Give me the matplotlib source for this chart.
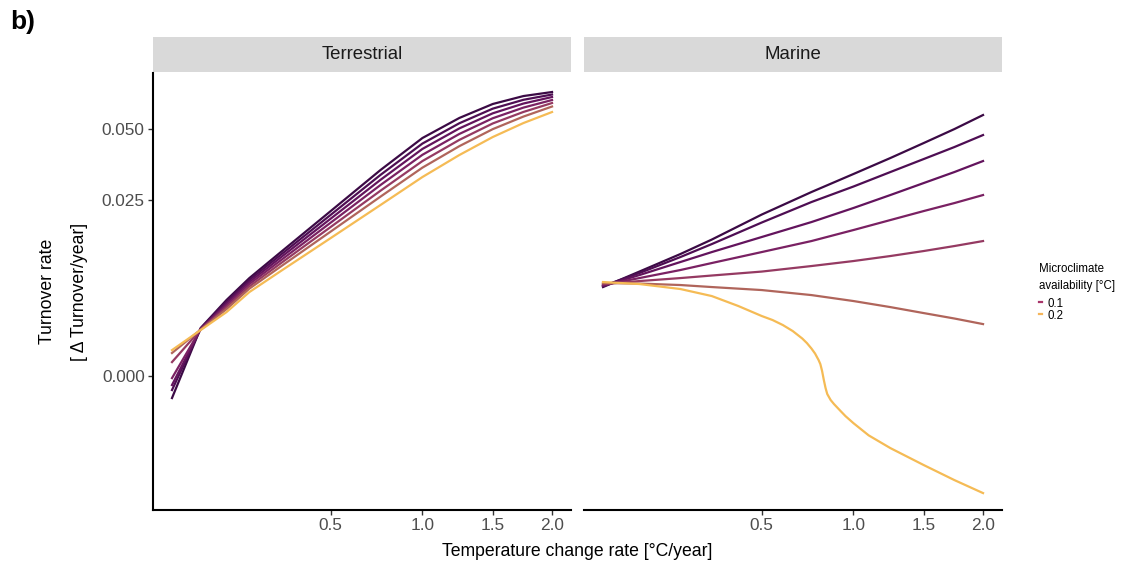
import numpy as np
import matplotlib.pyplot as plt
from matplotlib.lines import Line2D

plt.rcParams['font.family'] = ['Liberation Sans', 'DejaVu Sans']

# Terrestrial: turnover rate per microclimate availability (dark -> light)
terr_x = [0.04, 0.085, 0.14, 0.2, 0.3, 0.5, 0.75, 1.0, 1.25, 1.5, 1.75, 2.0]
terr = [
    [-0.00207, 0.00464, 0.00772, 0.01049, 0.01436, 0.0223, 0.03355, 0.04569, 0.05532, 0.06315, 0.06808, 0.07072],
    [-0.00131, 0.00459, 0.00752, 0.01023, 0.01393, 0.02145, 0.03199, 0.04333, 0.05261, 0.06043, 0.06571, 0.06907],
    [-0.00084, 0.00454, 0.00732, 0.00996, 0.01351, 0.02062, 0.03048, 0.04115, 0.05009, 0.05782, 0.06343, 0.06746],
    [-0.00019, 0.00454, 0.00711, 0.0097, 0.01306, 0.01978, 0.02896, 0.03889, 0.04751, 0.05517, 0.06104, 0.06557],
    [0.00131, 0.00448, 0.00689, 0.0094, 0.01261, 0.0189, 0.02737, 0.03661, 0.04489, 0.05251, 0.05858, 0.06374],
    [0.00217, 0.00448, 0.00667, 0.00911, 0.01213, 0.018, 0.0258, 0.03434, 0.04227, 0.04974, 0.05606, 0.06166],
    [0.00245, 0.00443, 0.00634, 0.00868, 0.01147, 0.01678, 0.02371, 0.03133, 0.03881, 0.04613, 0.05272, 0.05853],
]

# Marine
mar_x = [0.04, 0.1, 0.2, 0.3, 0.5, 0.75, 1.0, 1.25, 1.5, 1.75, 2.0]
mar = [
    [0.00931, 0.01139, 0.01404, 0.01651, 0.02151, 0.02702, 0.03227, 0.0377, 0.04356, 0.04979, 0.05689],
    [0.00944, 0.01118, 0.01356, 0.01571, 0.0198, 0.02444, 0.02853, 0.0329, 0.03734, 0.04192, 0.04702],
    [0.00944, 0.0109, 0.01279, 0.01436, 0.01697, 0.0199, 0.023, 0.02622, 0.02954, 0.03291, 0.03662],
    [0.00957, 0.01049, 0.01161, 0.01264, 0.01436, 0.01624, 0.01829, 0.02032, 0.0223, 0.02419, 0.02622],
    [0.0097, 0.01009, 0.01049, 0.01084, 0.01139, 0.01219, 0.01294, 0.01372, 0.01453, 0.01537, 0.01624],
    [0.00983, 0.00976, 0.00957, 0.00931, 0.00893, 0.00831, 0.0076, 0.0069, 0.00623, 0.00564, 0.00505],
]
mar_hi_x = [0.04, 0.1, 0.2, 0.3, 0.4, 0.5, 0.55, 0.6, 0.65, 0.7, 0.725, 0.75, 0.77, 0.79, 0.8, 0.81,
            0.82, 0.83, 0.84, 0.86, 0.88, 0.92, 0.95, 1.0, 1.1, 1.25, 1.5, 1.75, 2.0]
mar_hi = [0.00996, 0.0097, 0.00906, 0.00819, 0.00702, 0.00591, 0.00548, 0.00495, 0.00433, 0.00358,
          0.00313, 0.0026, 0.00212, 0.0015, 0.00112, 0.00047, -0.00037, -0.00112, -0.00169, -0.00226,
          -0.00265, -0.00333, -0.00383, -0.00454, -0.00583, -0.00725, -0.00931, -0.01133, -0.01325]

colors = ["#3b0a45", "#4e0e53", "#63145d", "#7a2163", "#953a62", "#b0655b", "#f5bb55"]
legend_labels = ['0.1', '0.2']
legend_colors = ["#a8356a", "#f5b55a"]

W, H = 1129, 564
fig = plt.figure(figsize=(W / 100, H / 100), dpi=100)
axL = fig.add_axes([153 / W, 1 - 510 / H, 418 / W, 437 / H])
axR = fig.add_axes([584 / W, 1 - 510 / H, 418 / W, 437 / H])

for i, y in enumerate(terr):
    axL.plot(terr_x, y, color=colors[i], lw=1.6)
for i, y in enumerate(mar):
    axR.plot(mar_x, y, color=colors[i], lw=1.6)
axR.plot(mar_hi_x, mar_hi, color=colors[6], lw=1.6)

for ax in (axL, axR):
    ax.set_xscale('function', functions=(np.sqrt, np.square))
    ax.set_yscale('asinh', linear_width=0.01)
    ax.set_xlim(0.0194, 2.175)
    ax.set_ylim(-0.01605, 0.0846)
    ax.set_xticks([0.5, 1.0, 1.5, 2.0])
    ax.set_xticklabels(['0.5', '1.0', '1.5', '2.0'])
    ax.minorticks_off()
    for s in ('top', 'right'):
        ax.spines[s].set_visible(False)
    ax.spines['bottom'].set_linewidth(1.5)
    ax.spines['left'].set_linewidth(1.5)
    ax.tick_params(axis='both', labelsize=12.4, labelcolor='#4d4d4d', color='#333333',
                   length=3.5, width=1, pad=2.5)

axL.set_yticks([0.0, 0.025, 0.05])
axL.set_yticklabels(['0.000', '0.025', '0.050'])
axR.set_yticks([])
axR.spines['left'].set_visible(False)

axL.set_ylabel("Turnover rate\n[ Δ Turnover/year]", fontsize=12.7, linespacing=2.2)
axL.yaxis.set_label_coords(-0.155, 0.5)

# facet strips
for ax, name in ((axL, 'Terrestrial'), (axR, 'Marine')):
    ax.add_patch(plt.Rectangle((0, 1 + 1 / 437), 1, 35 / 437, transform=ax.transAxes,
                               color='#d9d9d9', clip_on=False, lw=0))
    ax.text(0.5, 1 + 18.5 / 437, name, transform=ax.transAxes, ha='center', va='center',
            fontsize=13.4, color='#1a1a1a')

fig.text(577.5 / W, 1 - 551 / H, "Temperature change rate [°C/year]", ha='center', va='center',
         fontsize=12.7)
fig.text(10 / W, 1 - 22 / H, "b)", ha='left', va='center', fontsize=19, fontweight='bold')

handles = [Line2D([], [], color=c, lw=1.6) for c in legend_colors]
leg = fig.legend(handles, legend_labels, title="Microclimate\navailability [°C]",
                 loc='upper left', bbox_to_anchor=(1039 / W, 1 - 263 / H), frameon=False,
                 fontsize=8.3, title_fontsize=8.3, handlelength=0.3, handletextpad=0.4,
                 labelspacing=0.0, borderaxespad=0, borderpad=0)
leg.get_title().set_linespacing(1.55)
leg._legend_box.align = 'left'
leg._legend_box.sep = 4

fig.savefig('out.png', dpi=100)
